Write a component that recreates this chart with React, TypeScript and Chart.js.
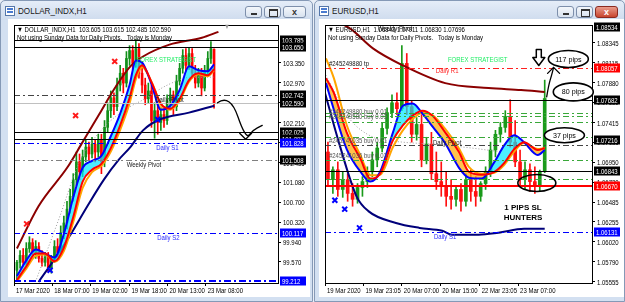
import React, { useEffect, useRef } from "react";
import { Chart, registerables } from "chart.js";
Chart.register(...registerables);

const FONT_N = "'Liberation Sans',Arial,sans-serif";
const FONT_R = "'Liberation Sans',Arial,sans-serif";
const NARROW = 0.8;

// ================= DOLLAR_INDX,H1 (left) =================
const L_OPEN = [99.411, 99.561, 99.692, 99.561, 99.822, 99.934, 99.748, 99.860, 99.635, 99.561, 99.673, 99.449, 99.635, 99.860, 99.748, 100.121, 100.308, 100.570, 100.813, 101.131, 101.467, 101.280, 101.561, 101.748, 101.617, 101.804, 101.654, 101.879, 101.467, 102.122, 102.439, 102.682, 102.514, 102.925, 103.150, 102.963, 103.430, 103.580, 103.337, 103.617, 103.150, 102.925, 102.664, 102.813, 102.252, 102.439, 102.215, 102.365, 102.252, 102.626, 102.738, 102.514, 103.000, 103.243, 103.486, 103.299, 103.523, 103.150, 102.963, 103.150, 102.869, 103.187, 103.430, 103.605];
const L_HIGH = [99.598, 99.785, 99.822, 99.934, 100.047, 100.009, 99.972, 99.934, 99.785, 99.748, 99.748, 99.692, 99.972, 100.009, 100.252, 100.439, 100.720, 100.944, 101.243, 101.654, 101.617, 101.692, 101.879, 101.841, 101.935, 101.879, 101.991, 101.991, 102.252, 102.589, 102.813, 102.776, 103.056, 103.299, 103.243, 103.561, 103.673, 103.673, 103.785, 103.710, 103.374, 103.056, 102.963, 102.925, 102.589, 102.589, 102.495, 102.495, 102.738, 102.869, 102.813, 103.112, 103.337, 103.598, 103.617, 103.636, 103.617, 103.299, 103.243, 103.243, 103.299, 103.561, 103.748, 103.615];
const L_LOW = [99.224, 99.449, 99.486, 99.505, 99.748, 99.673, 99.635, 99.561, 99.486, 99.486, 99.374, 99.355, 99.561, 99.673, 99.692, 100.009, 100.196, 100.495, 100.720, 101.019, 101.131, 101.187, 101.467, 101.505, 101.542, 101.467, 101.561, 101.243, 101.374, 102.028, 102.308, 102.365, 102.439, 102.813, 102.776, 102.888, 103.299, 103.224, 103.262, 103.056, 102.776, 102.551, 102.589, 102.122, 101.916, 101.991, 102.065, 102.122, 102.178, 102.495, 102.365, 102.439, 102.925, 103.150, 103.187, 103.224, 103.056, 102.869, 102.888, 102.720, 102.813, 103.112, 103.337, 102.485];
const L_CLOSE = [99.561, 99.692, 99.561, 99.822, 99.934, 99.748, 99.860, 99.635, 99.561, 99.673, 99.449, 99.635, 99.860, 99.748, 100.121, 100.308, 100.570, 100.813, 101.131, 101.467, 101.280, 101.561, 101.748, 101.617, 101.804, 101.654, 101.879, 101.467, 102.122, 102.439, 102.682, 102.514, 102.925, 103.150, 102.963, 103.430, 103.580, 103.337, 103.617, 103.150, 102.925, 102.664, 102.813, 102.252, 102.439, 102.215, 102.365, 102.252, 102.626, 102.738, 102.514, 103.000, 103.243, 103.486, 103.299, 103.523, 103.150, 102.963, 103.150, 102.869, 103.187, 103.430, 103.617, 102.590];

const L_MA_IDX = [0, 3, 6, 9, 12, 15, 18, 21, 24, 27, 30, 33, 36, 38, 40, 43, 46, 49, 52, 55, 58, 61, 63];
const L_MA_BLUE = [99.299, 99.598, 99.804, 99.729, 99.654, 100.103, 100.794, 101.355, 101.486, 101.580, 101.953, 102.383, 102.925, 103.393, 103.355, 102.944, 102.458, 102.533, 102.832, 103.280, 103.206, 103.187, 103.318];
const L_MA_RED = [99.224, 99.486, 99.729, 99.729, 99.580, 99.841, 100.420, 101.093, 101.318, 101.430, 101.729, 102.159, 102.682, 103.112, 103.299, 102.981, 102.570, 102.477, 102.664, 103.019, 103.150, 103.112, 103.224];
const L_MA_ORANGE = [99.196, 99.440, 99.682, 99.711, 99.571, 99.776, 100.327, 100.972, 101.271, 101.393, 101.664, 102.075, 102.580, 103.038, 103.262, 102.991, 102.570, 102.458, 102.627, 102.991, 103.131, 103.094, 103.206];
const L_NAVY_IDX = [6.9, 12.2, 16.9, 22.5, 27.8, 32.5, 36.25, 40.3, 45.6, 55, 63.1];
const L_NAVY = [99.187, 99.635, 100.065, 100.626, 101.131, 101.505, 101.748, 102.065, 102.271, 102.402, 102.533];
const L_MAROON_IDX = [0, 6.9, 16.25, 20.6, 26.25, 30.9, 36.25, 40.3, 48.75, 59.1, 64.4];
const L_MAROON = [99.822, 100.626, 101.374, 101.804, 102.365, 102.832, 103.280, 103.467, 103.692, 103.823, 103.935];
const L_DOT_IDX = [5.9, 13.75, 20, 27.8, 35.6, 40.3, 48.1, 55.9, 62.8];
const L_DOT = [99.187, 100.439, 101.467, 102.122, 102.495, 102.645, 102.925, 103.075, 103.075];
const L_XRED_IDX = [31.25, 18.75, 3.1];
const L_XRED_VAL = [103.374, 102.346, 100.290];
const L_XBLUE_IDX = [45, 10.6];
const L_XBLUE_VAL = [102.271, 99.411];

const L_YTICKS = [103.350, 102.970, 102.590, 102.210, 101.830, 101.455, 101.080, 100.700, 100.320, 99.940, 99.570];
const L_XTICK_POS = [-0.93, 11.25, 23.44, 35.94, 48.13, 60.31];
const L_XTICK_LABELS = ["17 Mar 2020", "18 Mar 07:00", "19 Mar 02:00", "19 Mar 18:00", "20 Mar 13:00", "23 Mar 08:00"];
const L_LEVELS = [103.785, 103.650, 102.742, 102.590, 102.025, 101.897, 101.828, 101.508, 100.117, 99.212];
const L_LEVEL_KINDS = ["black", "black", "pivot", "bid", "black", "black", "blue", "gray", "blue", "blue2"];
const L_BOXES = [103.785, 103.650, 102.742, 102.590, 102.025, 101.897, 101.828, 101.508, 100.117, 99.212];
const L_BOX_KINDS = ["black", "black", "black", "black", "black", "black", "blue", "black", "blue", "blue"];
const L_HEADER = ["\u25BC DOLLAR_INDX,H1  103.605 103.615 102.485 102.590", "Not using Sunday Data for Daily Pivots.   Today is Monday"];
const L_PATH_IDX = [64.1, 68.1, 73.1, 75.3, 78.4];
const L_PATH_VAL = [102.589, 102.757, 101.897, 102.065, 102.159];

// ================= EURUSD,H1 (right) =================
const R_OPEN = [1.07071, 1.06748, 1.06863, 1.06633, 1.06748, 1.06587, 1.06518, 1.06656, 1.06725, 1.06840, 1.06978, 1.07117, 1.07347, 1.07531, 1.07646, 1.07577, 1.08106, 1.07600, 1.07278, 1.07393, 1.06978, 1.07163, 1.06817, 1.06725, 1.06668, 1.06553, 1.06518, 1.06633, 1.06495, 1.06748, 1.06610, 1.06553, 1.06702, 1.06840, 1.07094, 1.07278, 1.07358, 1.07485, 1.07186, 1.06955, 1.06748, 1.06863, 1.06725, 1.06679, 1.06843];
const R_HIGH = [1.07186, 1.06898, 1.06955, 1.06840, 1.06817, 1.06702, 1.06702, 1.06783, 1.06898, 1.07071, 1.07186, 1.07416, 1.07588, 1.07738, 1.07761, 1.08314, 1.08222, 1.07669, 1.07473, 1.07508, 1.07243, 1.07301, 1.07071, 1.06955, 1.06840, 1.06748, 1.06668, 1.06702, 1.06817, 1.06863, 1.06783, 1.06725, 1.06898, 1.07186, 1.07324, 1.07416, 1.07554, 1.07681, 1.07439, 1.07094, 1.06955, 1.06932, 1.06898, 1.06860, 1.07911];
const R_LOW = [1.06668, 1.06587, 1.06553, 1.06541, 1.06495, 1.06437, 1.06472, 1.06553, 1.06656, 1.06783, 1.06898, 1.07071, 1.07278, 1.07473, 1.07508, 1.07554, 1.07508, 1.07186, 1.07209, 1.06898, 1.06932, 1.06748, 1.06633, 1.06553, 1.06437, 1.06403, 1.06437, 1.06380, 1.06437, 1.06495, 1.06437, 1.06495, 1.06633, 1.06783, 1.07013, 1.07186, 1.07301, 1.07128, 1.06898, 1.06668, 1.06633, 1.06610, 1.06587, 1.06610, 1.06830];
const R_CLOSE = [1.06748, 1.06863, 1.06633, 1.06748, 1.06587, 1.06518, 1.06656, 1.06725, 1.06840, 1.06978, 1.07117, 1.07347, 1.07531, 1.07646, 1.07577, 1.08106, 1.07600, 1.07278, 1.07393, 1.06978, 1.07163, 1.06817, 1.06725, 1.06668, 1.06553, 1.06518, 1.06633, 1.06495, 1.06748, 1.06610, 1.06553, 1.06702, 1.06840, 1.07094, 1.07278, 1.07358, 1.07485, 1.07186, 1.06955, 1.06748, 1.06863, 1.06725, 1.06679, 1.06840, 1.07696];

const R_MA_IDX = [-0.4, 1.2, 3.8, 6.6, 8.6, 10.6, 13.2, 15.2, 17.2, 19.2, 21.2, 23.8, 26.6, 28.6, 31.2, 33.8, 35.8, 37.8, 39.8, 42.6, 44];
const R_MA_BLUE = [1.07876, 1.07565, 1.07105, 1.06840, 1.06725, 1.06840, 1.07301, 1.07611, 1.07638, 1.07519, 1.07370, 1.07174, 1.06886, 1.06771, 1.06760, 1.06955, 1.07151, 1.07266, 1.07186, 1.07036, 1.07094];
const R_MA_RED = [1.07934, 1.07761, 1.07301, 1.06990, 1.06760, 1.06817, 1.07209, 1.07381, 1.07496, 1.07554, 1.07496, 1.07301, 1.07071, 1.06840, 1.06806, 1.06840, 1.06944, 1.07105, 1.07186, 1.07094, 1.07117];
const R_MA_ORANGE = [1.08164, 1.07934, 1.07387, 1.07031, 1.06800, 1.06806, 1.07129, 1.07324, 1.07456, 1.07531, 1.07502, 1.07341, 1.07111, 1.06898, 1.06818, 1.06829, 1.06921, 1.07077, 1.07175, 1.07106, 1.07117];
const R_NAVY_IDX = [-0.6, 2.2, 5.8, 8.2, 13.8, 18.6, 23.2, 25.2, 30.6, 34.6, 39.8, 44];
const R_NAVY = [1.07761, 1.07186, 1.06553, 1.06380, 1.06242, 1.06184, 1.06150, 1.06104, 1.06104, 1.06127, 1.06173, 1.06173];
const R_MAROON_IDX = [-0.4, 4.6, 9.2, 15.2, 23.8, 32.6, 39.2, 44];
const R_MAROON = [1.08659, 1.08509, 1.08279, 1.08083, 1.07876, 1.07819, 1.07796, 1.07773];
const R_DOT_IDX = [-0.4, 4.2, 9.2, 15.2, 21.2, 29.2, 35.2];
const R_DOT = [1.07968, 1.07473, 1.07243, 1.07186, 1.07163, 1.07117, 1.07071];
const R_XBLUE_IDX = [1.4, 3.4, 6.4];
const R_XBLUE_VAL = [1.06507, 1.06403, 1.06184];

const R_YTICKS = [1.08345, 1.08115, 1.07880, 1.07650, 1.07415, 1.07185, 1.06950, 1.06720, 1.06485, 1.06255, 1.06020, 1.05790, 1.05555];
const R_XTICK_POS = [-0.6, 7.2, 15, 22.8, 30.8, 38.6];
const R_XTICK_LABELS = ["19 Mar 2020", "19 Mar 23:05", "20 Mar 07:00", "20 Mar 15:00", "22 Mar 23:05", "23 Mar 07:00"];
const R_LEVELS = [1.08057, 1.07682, 1.07531, 1.07496, 1.07427, 1.07243, 1.07151, 1.06978, 1.06843, 1.06760, 1.06670, 1.06131];
const R_LEVEL_KINDS = ["red", "black", "green", "green", "green", "green", "pivot", "green", "black", "green", "redSolid", "blue"];
const R_BOXES = [1.08534, 1.08057, 1.07682, 1.07216, 1.06843, 1.06670, 1.06131];
const R_BOX_KINDS = ["black", "red", "black", "black", "black", "red", "blue"];
const R_HEADER = ["\u25BC EURUSD,H1  1.06843 1.07911 1.06830 1.07696", "Not using Sunday Data for Daily Pivots.   Today is Monday"];
const R_PATH_IDX = [44.4, 44.8, 45.4, 45.8];
const R_PATH_VAL = [1.07715, 1.07853, 1.07968, 1.08060];

// ================= styles =================
const LEVEL_STYLE: any = {
  black: { color: "#000000", width: 1, dash: [] },
  pivot: { color: "#444444", width: 1, dash: [6, 3, 2, 3] },
  bid: { color: "#c0c0c0", width: 1, dash: [] },
  blue: { color: "#0000ff", width: 1, dash: [6, 3, 2, 3] },
  blue2: { color: "#0000ff", width: 2, dash: [7, 3, 2, 3] },
  gray: { color: "#808080", width: 1, dash: [6, 3, 2, 3] },
  red: { color: "#ff2020", width: 1, dash: [6, 3, 2, 3] },
  redSolid: { color: "#ff0000", width: 2, dash: [] },
  green: { color: "#3aa83a", width: 1, dash: [6, 3, 2, 3] },
};
const BOX_COLOR: any = { black: "#000000", blue: "#0000ff", red: "#ff0000" };
const GREEN_TXT = "#22ee66";
const BLUE_TXT = "#2a2aff";

const LEFT_SPEC = {
  open: L_OPEN, high: L_HIGH, low: L_LOW, close: L_CLOSE,
  xMin: -0.9375, xMax: 83.44, yMin: 99.168, yMax: 104.065, padLeft: 0, dec: 3,
  xTicks: L_XTICK_POS, xLabels: L_XTICK_LABELS, yTicks: L_YTICKS,
  maIdx: L_MA_IDX, blue: L_MA_BLUE, red: L_MA_RED, orange: L_MA_ORANGE,
  navyIdx: L_NAVY_IDX, navy: L_NAVY, maroonIdx: L_MAROON_IDX, maroon: L_MAROON, dotIdx: L_DOT_IDX, dot: L_DOT,
  xRedIdx: L_XRED_IDX, xRedVal: L_XRED_VAL, xBlueIdx: L_XBLUE_IDX, xBlueVal: L_XBLUE_VAL,
  levels: L_LEVELS, levelKinds: L_LEVEL_KINDS, boxes: L_BOXES, boxKinds: L_BOX_KINDS, header: L_HEADER,
  bodyW: 2, up: "#12901a", down: "#ff0000",
  notes: [
    { t: "FOREX STRATEGIST", x: 47.8, v: 103.393, color: GREEN_TXT },
    { t: "Daily Pivot", x: 48.75, v: 102.645, color: "#222" },
    { t: "Daily S1", x: 48.1, v: 101.729, color: BLUE_TXT },
    { t: "Weekly Pivot", x: 40.6, v: 101.411, color: "#222" },
    { t: "Daily S2", x: 48.4, v: 100.028, color: BLUE_TXT },
  ],
  ellipses: [],
  path: { idx: L_PATH_IDX, val: L_PATH_VAL, head: 2, dir: "down" },
  downArrow: null,
  headMark: 210,
};

const RIGHT_SPEC = {
  open: R_OPEN, high: R_HIGH, low: R_LOW, close: R_CLOSE,
  xMin: -0.6, xMax: 53.6, yMin: 1.0554, yMax: 1.08555, padLeft: 2, dec: 5,
  xTicks: R_XTICK_POS, xLabels: R_XTICK_LABELS, yTicks: R_YTICKS,
  maIdx: R_MA_IDX, blue: R_MA_BLUE, red: R_MA_RED, orange: R_MA_ORANGE,
  navyIdx: R_NAVY_IDX, navy: R_NAVY, maroonIdx: R_MAROON_IDX, maroon: R_MAROON, dotIdx: R_DOT_IDX, dot: R_DOT,
  xRedIdx: [], xRedVal: [], xBlueIdx: R_XBLUE_IDX, xBlueVal: R_XBLUE_VAL,
  levels: R_LEVELS, levelKinds: R_LEVEL_KINDS, boxes: R_BOXES, boxKinds: R_BOX_KINDS, header: R_HEADER,
  bodyW: 3, up: "#1a9a1a", down: "#ff1010",
  notes: [
    { t: "FOREX STRATEGIST", x: 30.4, v: 1.08141, color: GREEN_TXT },
    { t: "Daily R1", x: 24.2, v: 1.08014, color: "#ff2020" },
    { t: "#245249880 tp", x: 0.2, v: 1.08095, color: "#111", align: "left" },
    { t: "Weekly Pivot", x: 13.6, v: 1.08509, color: "#111" },
    { t: "Daily Pivot", x: 24.2, v: 1.07174, color: "#222" },
    { t: "Daily S1", x: 23.8, v: 1.06081, color: BLUE_TXT },
    { t: "#245249880 buy 0.01", x: 0.2, v: 1.07542, color: "#555", align: "left" },
    { t: "#245249580 buy 0.03", x: 0.2, v: 1.07485, color: "#555", align: "left" },
    { t: "#245241035 buy 0.01", x: 0.2, v: 1.07197, color: "#555", align: "left" },
    { t: "#245241036 buy 0.03", x: 0.2, v: 1.07024, color: "#555", align: "left" },
    { t: "1 PIPS SL", x: 39.6, v: 1.06414, color: "#000", bold: true },
    { t: "HUNTERS", x: 39.6, v: 1.06299, color: "#000", bold: true },
  ],
  ellipses: [
    { x: 48.8, v: 1.08158, rx: 20, ry: 8.5, t: "117 pips" },
    { x: 49.8, v: 1.07773, rx: 20, ry: 9, t: "80 pips" },
    { x: 48.0, v: 1.07266, rx: 20, ry: 7.5, t: "37 pips" },
    { x: 42.4, v: 1.06708, rx: 19, ry: 8.5, t: "" },
  ],
  path: { idx: R_PATH_IDX, val: R_PATH_VAL, head: 3, dir: "up" },
  downArrow: { x: 42.8, v: 1.08268 },
  headMark: null,
};

function pts(xs: number[], ys: number[]) {
  return xs.map((x, i) => ({ x, y: ys[i] }));
}

// draws real text, horizontally condensed like the MT4 terminal font
function narrow(ctx: CanvasRenderingContext2D, t: string, x: number, y: number, align: CanvasTextAlign = "left", k = NARROW) {
  ctx.save();
  ctx.translate(x, y);
  ctx.scale(k, 1);
  ctx.textAlign = align;
  ctx.fillText(t, 0, 0);
  ctx.restore();
}

function makeChart(canvas: HTMLCanvasElement, s: any) {
  const body = s.open.map((o: number, i: number) => ({ x: i, y: [o, s.close[i]] }));
  const wick = s.open.map((o: number, i: number) => ({ x: i, y: [s.low[i], s.high[i]] }));
  const col = s.open.map((o: number, i: number) => (s.close[i] >= o ? s.up : s.down));
  const lineBase = { type: "line", pointRadius: 0, borderWidth: 2, cubicInterpolationMode: "monotone", fill: false };

  const datasets: any[] = [
    { ...lineBase, label: "fast", data: pts(s.maIdx, s.blue), borderColor: "#0000ff",
      fill: { target: 1, above: "rgba(0,232,255,0.7)", below: "rgba(255,168,0,0.7)" }, order: 4 },
    { ...lineBase, label: "slow", data: pts(s.maIdx, s.red), borderColor: "#ff0000", order: 3 },
    { ...lineBase, label: "signal", data: pts(s.maIdx, s.orange), borderColor: "#ffa500", order: 5 },
    { ...lineBase, label: "navy", data: pts(s.navyIdx, s.navy), borderColor: "#00007a", order: 6 },
    { ...lineBase, label: "maroon", data: pts(s.maroonIdx, s.maroon), borderColor: "#8b0000", order: 7 },
    { ...lineBase, label: "dot", data: pts(s.dotIdx, s.dot), borderColor: "#9a9a9a", borderWidth: 1, borderDash: [1, 2], order: 8 },
    { type: "bar", label: "body", data: body, backgroundColor: col, barThickness: s.bodyW, grouped: false, minBarLength: 1, order: 9 },
    { type: "bar", label: "wick", data: wick, backgroundColor: col, barThickness: 1, grouped: false, order: 10 },
    { type: "scatter", label: "xr", data: pts(s.xRedIdx, s.xRedVal), pointStyle: "crossRot", pointRadius: 3.5, borderColor: "#ff1a1a", borderWidth: 2, order: 1 },
    { type: "scatter", label: "xb", data: pts(s.xBlueIdx, s.xBlueVal), pointStyle: "crossRot", pointRadius: 3.5, borderColor: "#0000ff", borderWidth: 2, order: 1 },
  ];

  const overlay = {
    id: "mt4overlay",
    afterDatasetsDraw(chart: any) {
      const { ctx, chartArea: a, scales } = chart;
      const y = scales.y;
      ctx.save();
      s.levels.forEach((v: number, k: number) => {
        const st = LEVEL_STYLE[s.levelKinds[k]];
        const py = Math.round(y.getPixelForValue(v)) + (st.width === 1 ? 0.5 : 0);
        ctx.strokeStyle = st.color;
        ctx.lineWidth = st.width;
        ctx.setLineDash(st.dash);
        ctx.beginPath();
        ctx.moveTo(a.left, py);
        ctx.lineTo(a.right, py);
        ctx.stroke();
      });
      ctx.restore();
    },
    afterDraw(chart: any) {
      const { ctx, chartArea: a, scales } = chart;
      const x = scales.x, y = scales.y;
      ctx.save();
      // frame
      ctx.strokeStyle = "#000";
      ctx.lineWidth = 1;
      ctx.setLineDash([]);
      ctx.strokeRect(a.left + 0.5, a.top + 0.5, a.right - a.left, a.bottom - a.top);
      ctx.textBaseline = "middle";
      // axis labels from the scales' own ticks
      ctx.fillStyle = "#000";
      ctx.font = `7.5px ${FONT_N}`;
      y.ticks.forEach((t: any) => {
        narrow(ctx, Number(t.value).toFixed(s.dec), a.right + 5, Math.round(y.getPixelForValue(t.value)) + 0.5);
      });
      x.ticks.forEach((t: any, i: number) => {
        narrow(ctx, s.xLabels[i], x.getPixelForValue(t.value) + 2, a.bottom + 7.5);
      });
      // header
      ctx.fillText("", 0, 0);
      narrow(ctx, s.header[0], a.left + 3, a.top + 5);
      narrow(ctx, s.header[1], a.left + 3, a.top + 12.5);
      if (s.headMark) {
        ctx.fillStyle = "#999";
        narrow(ctx, "\u25BC", a.left + s.headMark, a.top + 2);
      }
      // notes
      s.notes.forEach((n: any) => {
        ctx.fillStyle = n.color;
        const px = x.getPixelForValue(n.x), py = y.getPixelForValue(n.v);
        if (n.bold) {
          ctx.font = `bold 8px ${FONT_R}`;
          narrow(ctx, n.t, px, py, "center", 1);
        } else {
          ctx.font = `7.5px ${FONT_N}`;
          narrow(ctx, n.t, px, py, n.align || "center");
        }
      });
      // ellipses
      s.ellipses.forEach((e: any) => {
        const cx = x.getPixelForValue(e.x), cy = y.getPixelForValue(e.v);
        ctx.beginPath();
        ctx.ellipse(cx, cy, e.rx, e.ry, 0, 0, Math.PI * 2);
        if (e.t) { ctx.fillStyle = "#fff"; ctx.fill(); }
        ctx.strokeStyle = "#000";
        ctx.lineWidth = 1.6;
        ctx.stroke();
        if (e.t) {
          ctx.fillStyle = "#000";
          ctx.font = `7.5px ${FONT_R}`;
          narrow(ctx, e.t, cx, cy + 0.5, "center", 0.95);
        }
      });
      // hand-drawn path
      if (s.path) {
        const P = s.path.idx.map((v: number, i: number) => [x.getPixelForValue(v), y.getPixelForValue(s.path.val[i])]);
        ctx.strokeStyle = "#000";
        ctx.lineWidth = 1.3;
        ctx.lineJoin = "round";
        ctx.lineCap = "round";
        ctx.beginPath();
        ctx.moveTo(P[0][0], P[0][1]);
        for (let i = 1; i < P.length - 1; i++) {
          const mx = (P[i][0] + P[i + 1][0]) / 2, my = (P[i][1] + P[i + 1][1]) / 2;
          ctx.quadraticCurveTo(P[i][0], P[i][1], mx, my);
        }
        ctx.lineTo(P[P.length - 1][0], P[P.length - 1][1]);
        ctx.stroke();
        const h = P[s.path.head];
        const d = s.path.dir === "down" ? -1 : 1;
        ctx.beginPath();
        ctx.moveTo(h[0] - 6, h[1] + d * 6);
        ctx.lineTo(h[0], h[1]);
        ctx.lineTo(h[0] + 6, h[1] + d * 6);
        ctx.stroke();
      }
      // hollow down arrow
      if (s.downArrow) {
        const cx = x.getPixelForValue(s.downArrow.x), ty = y.getPixelForValue(s.downArrow.v);
        ctx.beginPath();
        ctx.moveTo(cx - 2.5, ty);
        ctx.lineTo(cx + 2.5, ty);
        ctx.lineTo(cx + 2.5, ty + 8);
        ctx.lineTo(cx + 6, ty + 8);
        ctx.lineTo(cx, ty + 16);
        ctx.lineTo(cx - 6, ty + 8);
        ctx.lineTo(cx - 2.5, ty + 8);
        ctx.closePath();
        ctx.fillStyle = "#fff";
        ctx.fill();
        ctx.strokeStyle = "#000";
        ctx.lineWidth = 1.5;
        ctx.stroke();
      }
      // price boxes
      ctx.font = `7.5px ${FONT_N}`;
      s.boxes.forEach((v: number, k: number) => {
        const py = Math.round(y.getPixelForValue(v));
        ctx.fillStyle = BOX_COLOR[s.boxKinds[k]];
        ctx.fillRect(a.right + 2, py - 4.5, 26, 9);
        ctx.fillStyle = "#fff";
        narrow(ctx, v.toFixed(s.dec), a.right + 4, py + 0.5);
      });
      ctx.restore();
    },
  };

  return new Chart(canvas, {
    type: "bar",
    data: { datasets },
    plugins: [overlay],
    options: {
      responsive: false,
      animation: false,
      devicePixelRatio: 1,
      layout: { padding: { left: s.padLeft, right: 0, top: 2, bottom: 0 } },
      plugins: { legend: { display: false }, tooltip: { enabled: false } },
      scales: {
        x: {
          type: "linear", min: s.xMin, max: s.xMax, offset: false,
          grid: { offset: false, drawOnChartArea: false, drawTicks: true, tickLength: 3, color: "#000", tickColor: "#000" },
          border: { display: true, color: "#000" },
          afterBuildTicks: (ax: any) => { ax.ticks = s.xTicks.map((v: number) => ({ value: v })); },
          afterFit: (ax: any) => { ax.height = 14; ax.paddingLeft = 0; ax.paddingRight = 0; },
          ticks: { display: false, autoSkip: false, maxRotation: 0, minRotation: 0 },
        },
        y: {
          type: "linear", position: "right", min: s.yMin, max: s.yMax, beginAtZero: false,
          grid: { drawOnChartArea: false, drawTicks: true, tickLength: 3, color: "#000", tickColor: "#000" },
          border: { display: true, color: "#000" },
          afterBuildTicks: (ax: any) => { ax.ticks = s.yTicks.map((v: number) => ({ value: v })); },
          afterFit: (ax: any) => { ax.width = 32; ax.paddingTop = 0; ax.paddingBottom = 0; },
          ticks: { display: false, autoSkip: false },
        },
      },
    } as any,
  } as any);
}

function WinButtons({ x, red }: { x: number; red: boolean }) {
  const base: any = {
    position: "absolute", top: 5, height: 12, borderRadius: 3, border: "1px solid #7d8fab",
    background: "linear-gradient(#f4f7fb,#d8e2ef)", boxSizing: "border-box",
  };
  return (
    <>
      <div style={{ ...base, left: x, width: 17 }}>
        <div style={{ position: "absolute", left: 5, top: 6, width: 6, height: 2, background: "#333" }} />
      </div>
      <div style={{ ...base, left: x + 19, width: 17 }}>
        <div style={{ position: "absolute", left: 4, top: 2, width: 7, height: 5, border: "1px solid #333", borderTopWidth: 2 }} />
      </div>
      <div style={{ ...base, left: x + 38, width: 23, border: red ? "1px solid #8a2a20" : base.border,
        background: red ? "linear-gradient(#e99c8c,#c8452e)" : base.background,
        color: red ? "#fff" : "#333", fontSize: 9, fontWeight: "bold", textAlign: "center", lineHeight: "10px", fontFamily: FONT_R }}>
        x
      </div>
    </>
  );
}

function WinFrame({ left, width, title, red }: { left: number; width: number; title: string; red: boolean }) {
  return (
    <div style={{ position: "absolute", left, top: 0, width, height: 302, boxSizing: "border-box",
      border: "1px solid #8599b6", borderRadius: "5px 5px 0 0",
      background: "linear-gradient(#e5edf8 0px,#cfdcee 19px,#d3e0f1 19px,#d3e0f1 100%)" }}>
      <div style={{ position: "absolute", left: 4, top: 5, width: 10, height: 10, border: "1px solid #5577aa", background: "#fff", boxSizing: "border-box" }}>
        <div style={{ position: "absolute", left: 1, top: 1, width: 6, height: 2, background: "#4a7bd0" }} />
        <div style={{ position: "absolute", left: 1, top: 4, width: 6, height: 2, background: "#4a7bd0" }} />
      </div>
      <div style={{ position: "absolute", left: 17, top: 4, fontSize: 9, color: "#1a1a1a", fontFamily: FONT_N, lineHeight: "12px", whiteSpace: "nowrap", transform: "scaleX(0.9)", transformOrigin: "left center" }}>
        {title}
      </div>
      <WinButtons x={width - 69} red={red} />
    </div>
  );
}

export default function App() {
  const lRef = useRef<HTMLCanvasElement>(null);
  const rRef = useRef<HTMLCanvasElement>(null);
  useEffect(() => {
    const c1 = makeChart(lRef.current as HTMLCanvasElement, LEFT_SPEC);
    const c2 = makeChart(rRef.current as HTMLCanvasElement, RIGHT_SPEC);
    return () => { c1.destroy(); c2.destroy(); };
  }, []);
  return (
    <div style={{ position: "absolute", left: 0, top: 0, width: 625, height: 302, overflow: "hidden", background: "#e9eef6" }}>
      <WinFrame left={0} width={313} title="DOLLAR_INDX,H1" red={false} />
      <WinFrame left={314} width={311} title="EURUSD,H1" red={true} />
      <canvas ref={lRef} width={302} height={278}
        style={{ position: "absolute", left: 8, top: 19, width: 302, height: 278, background: "#fff" }} />
      <canvas ref={rRef} width={305} height={278}
        style={{ position: "absolute", left: 319, top: 19, width: 305, height: 278, background: "#fff" }} />
    </div>
  );
}
